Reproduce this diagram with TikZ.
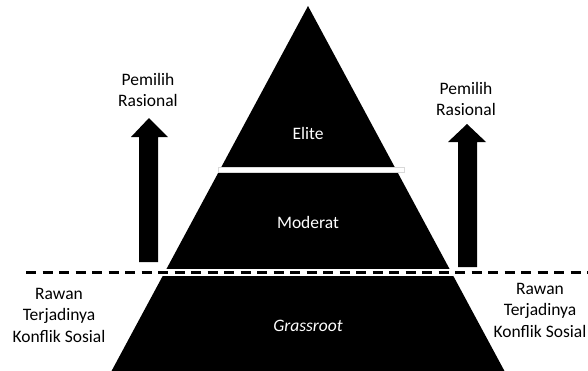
\documentclass[tikz,border=0pt]{standalone}
\usepackage{fontspec}
\setmainfont{Carlito}
\begin{document}
\begin{tikzpicture}[x=1pt,y=-1pt,
  lbl/.style={align=center,font=\fontsize{17.5}{21.5}\selectfont,inner sep=0pt},
  inlbl/.style={lbl,text=white},
  bigarrow/.style={fill=black}]
\useasboundingbox (0,0) rectangle (588,370);
% pyramid
\fill[black] (308,6) -- (505,372) -- (111,372) -- cycle;
% white gap under Elite
\filldraw[fill=white,draw=black!15,line width=0.4pt] (218,167) rectangle (404,172);
% white gap at dashed line
\fill[white] (100,269) rectangle (530,276);
\draw[line width=2.4pt,dash pattern=on 10pt off 6.5pt] (26,272.5) -- (590,272.5);
% arrows
\fill[bigarrow] (139,262) -- (139,137) -- (131,137) -- (149,118) -- (168,137) -- (158,137) -- (158,262) -- cycle;
\fill[bigarrow] (458,267) -- (458,142) -- (448,142) -- (467,124) -- (486,142) -- (477,142) -- (477,267) -- cycle;
% labels
\node[inlbl] (elite) at (308,133) {Elite};
\node[inlbl] (moderat) at (308,222) {Moderat};
\node[inlbl] (grass) at (308,326) {\itshape Grassroot};
\node[lbl] (pl) at (148,90) {Pemilih\\Rasional};
\node[lbl] (pr) at (466,99) {Pemilih\\Rasional};
\node[lbl] (rl) at (59,315) {Rawan\\Terjadinya\\Konflik Sosial};
\node[lbl] (rr) at (540,310) {Rawan\\Terjadinya\\Konflik Sosial};
\end{tikzpicture}
\end{document}
